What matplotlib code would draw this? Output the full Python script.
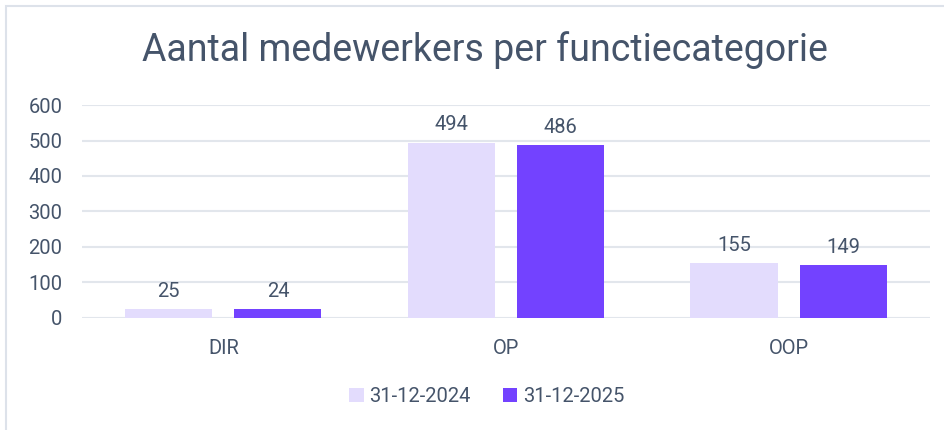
import matplotlib
matplotlib.use("Agg")
import matplotlib.pyplot as plt
from matplotlib.patches import Rectangle
import numpy as np

# data
categories = ["DIR", "OP", "OOP"]
series_names = ["31-12-2024", "31-12-2025"]
values_2024 = [25, 494, 155]
values_2025 = [24, 486, 149]
y_ticks = [0, 100, 200, 300, 400, 500, 600]

# colours
light = "#E3DCFD"
dark = "#7342FF"
txt = "#45546A"
grid = "#E2E6EC"

plt.rcParams["font.family"] = ["Roboto", "DejaVu Sans"]

fig = plt.figure(figsize=(9.44, 4.30), dpi=100)
ax = fig.add_axes([0.0869, 0.2605, 0.985 - 0.0869, 0.7558 - 0.2605])

# outer frame of the chart area (cut off on right/bottom)
fig.patches.append(Rectangle((6 / 944, -0.1), 2.0, 1 - 6 / 430 + 0.1,
                             transform=fig.transFigure, fill=False,
                             edgecolor="#DDE2EA", linewidth=1.5))

x = np.arange(len(categories))
w = 0.308
off = 0.193
b1 = ax.bar(x - off, values_2024, w, color=light, label=series_names[0], zorder=3)
b2 = ax.bar(x + off, values_2025, w, color=dark, label=series_names[1], zorder=3)

for bars in (b1, b2):
    ax.bar_label(bars, padding=6, fontsize=14.5, color=txt)

ax.set_xlim(-0.5, 2.5)
ax.set_ylim(0, 600)
ax.set_yticks(y_ticks)
ax.set_xticks(x)
ax.set_xticklabels(categories)
ax.tick_params(axis="both", length=0, labelsize=14.5, colors=txt)
ax.tick_params(axis="y", pad=14)
ax.tick_params(axis="x", pad=15)
ax.grid(axis="y", color=grid, linewidth=1.5, zorder=0)
for s in ax.spines.values():
    s.set_visible(False)

fig.text(0.514, 0.884, "Aantal medewerkers per functiecategorie",
         ha="center", va="center", fontsize=27, color=txt)

fig.legend(loc="center", bbox_to_anchor=(0.516, 0.078), ncol=2, frameon=False,
           fontsize=14.5, labelcolor=txt, handlelength=0.7, handleheight=0.7,
           handletextpad=0.3, columnspacing=1.6)

fig.savefig("out.png", dpi=100)
